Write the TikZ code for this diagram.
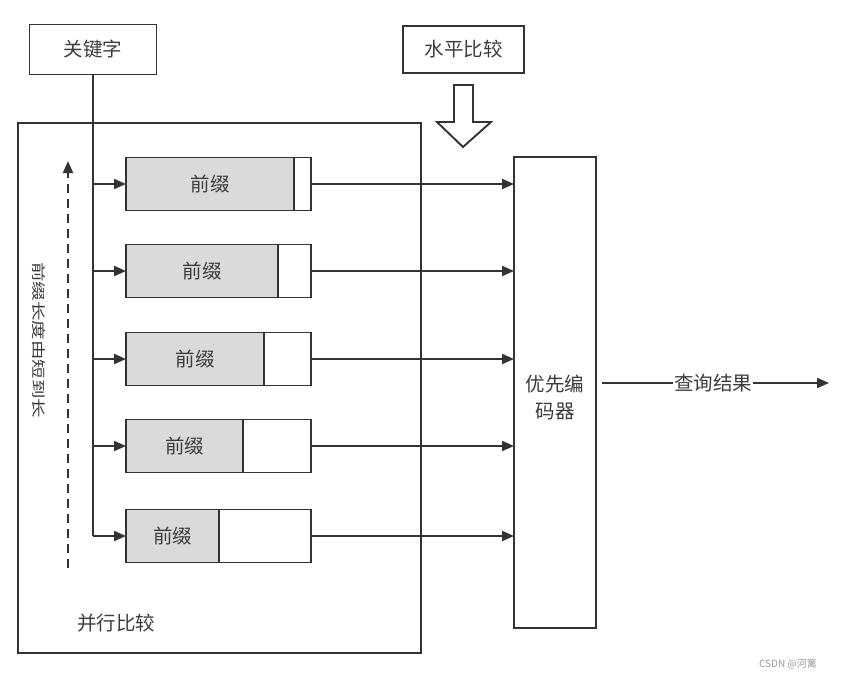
\documentclass[tikz,border=0pt]{standalone}
\usepackage{fontspec}
\setmainfont{Noto Sans CJK SC}
\usetikzlibrary{arrows.meta}
\definecolor{ink}{HTML}{333333}
\definecolor{txt}{HTML}{3C3C3C}
\definecolor{shade}{HTML}{DADADA}
\begin{document}
\begin{tikzpicture}[x=1pt,y=-1pt,
  every node/.style={inner sep=0pt,outer sep=0pt,text=txt,font=\fontsize{19.5}{24}\selectfont},
  box/.style={draw=ink,line width=1.9pt,fill=white},
  prefbox/.style={draw=ink,line width=1.9pt,fill=white,minimum width=185pt,minimum height=53pt,anchor=west},
  graypart/.style={draw=ink,line width=1.9pt,fill=shade,minimum height=53pt,anchor=west},
  conn/.style={draw=ink,line width=1.9pt},
  arr/.style={conn,-{Triangle[length=12pt,width=10pt]}}
  ]
\useasboundingbox (0,0) rectangle (842,679);
\fill[white] (0,0) rectangle (842,679);

% big container
\node[box,minimum width=403pt,minimum height=530pt] (big) at (219.5,388) {};
\node (par) at (116,623) {并行比较};
% keyword
\node[box,minimum width=127pt,minimum height=50pt] (kw) at (93,49.5) {关键字};
% horizontal compare
\node[box,minimum width=121pt,minimum height=47pt] (hz) at (463.5,49.5) {水平比较};
% hollow arrow
\draw[ink,line width=1.9pt,fill=white,line join=miter]
  (454,85) -- (473,85) -- (473,122) -- (491,122) -- (463,147) -- (437,122) -- (454,122) -- cycle;

% encoder
\node[box,minimum width=82pt,minimum height=471pt] (enc) at (555,392.5) {};
\node[align=center,font=\fontsize{19.5}{27}\selectfont] (enctext) at (555,398) {优先编\\码器};

% prefix boxes
\foreach \i/\y/\g in {1/184/168,2/271/152,3/359/138,4/446/117,5/536/93}{
  \node[prefbox] (p\i) at (126,\y) {};
  \node[graypart,minimum width=\g pt] (g\i) at (126,\y) {};
  \node at (g\i.center) {前缀};
}

% keyword trunk and branches
\draw[conn] (kw.south) -- (kw.south |- p5.west);
\foreach \i in {1,...,5}{
  \draw[arr] (kw.south |- p\i.west) -- (p\i.west);
  \draw[arr] (p\i.east) -- (enc.west |- p\i.east);
}

% dashed length arrow
\coordinate (dbot) at (68,568);
\coordinate (dtop) at (68,161);
\draw[ink,line width=1.9pt,dash pattern=on 9pt off 6pt,-{Triangle[length=12pt,width=10pt]}] (dbot) -- (dtop);
\node[rotate=-90] (vlabel) at (39,340) {\scalebox{1}[0.72]{前缀长度由短到长}};

% output
\coordinate (outs) at (602,383);
\coordinate (oute) at (829,383);
\draw[arr] (outs) -- (oute);
\node[fill=white,inner xsep=1pt] (res) at (713,383) {查询结果};

% watermark
\node[text=gray!80,font=\fontsize{10}{12}\selectfont] (wm) at (788,664) {CSDN @河篱};
\end{tikzpicture}
\end{document}
